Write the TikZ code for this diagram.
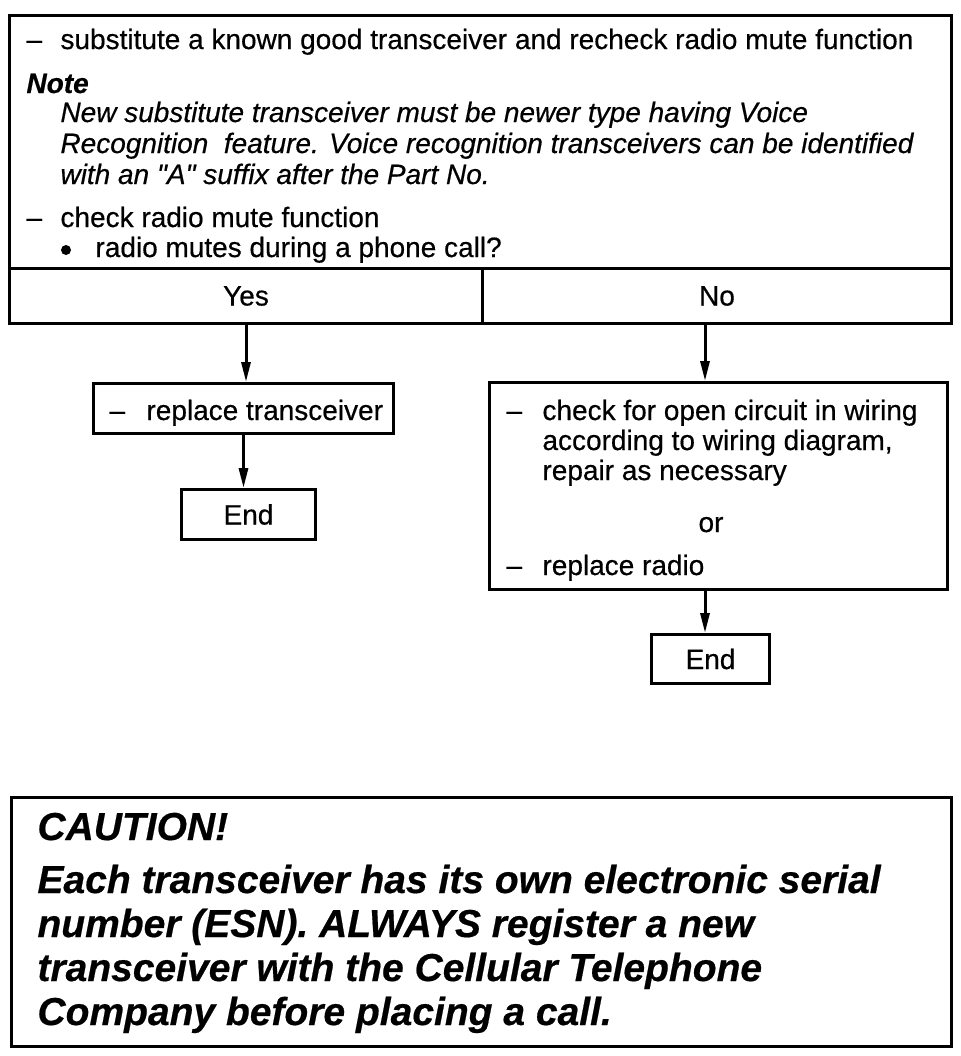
\documentclass[tikz,border=0pt]{standalone}
\usepackage{fontspec}
\setmainfont{Liberation Sans}[FakeBold=0.5]
\usetikzlibrary{arrows.meta,positioning}

\begin{document}
\begin{tikzpicture}[x=0.5pt,y=-0.5pt,line width=1.5pt,
    box/.style={draw,rectangle,inner sep=0pt,anchor=north west,font=\fontsize{14}{16}\selectfont},
    txt/.style={anchor=base west,inner sep=0pt,font=\fontsize{14}{16}\selectfont},
    warn/.style={anchor=base west,inner sep=0pt,font=\fontsize{19.5}{23}\selectfont\bfseries\itshape},
    flow/.style={-{Triangle[length=10pt,width=4.5pt]}}]
    \useasboundingbox (0,0) rectangle (960,1056);
    % question box
    \node[box,minimum width=471pt,minimum height=126.5pt] (check) at (8,14) {};
    \node[box,minimum width=236.5pt,minimum height=27.5pt] (yes) at (8,267) {Yes};
    \node[box,minimum width=234.5pt,minimum height=27.5pt] (no) at (481,267) {No};
    \node[txt] (d1) at (25,49) {--};
    \node[txt] (t1) at (59,49) {substitute a known good transceiver and recheck radio mute function};
    \node[txt,font=\fontsize{14}{16}\selectfont\bfseries\itshape] (note) at (25,93) {Note};
    \node[txt,font=\fontsize{14}{16}\selectfont\itshape] (n1) at (59,122) {New substitute transceiver must be newer type having Voice};
    \node[txt,font=\fontsize{14}{16}\selectfont\itshape] (n2) at (59,153) {Recognition\ \ feature. Voice recognition transceivers can be identified};
    \node[txt,font=\fontsize{14}{16}\selectfont\itshape] (n3) at (59,184) {with an \textquotedbl A\textquotedbl\ suffix after the Part No.};
    \node[txt] (d2) at (25,227) {--};
    \node[txt] (t2) at (59,227) {check radio mute function};
    \node[fill,circle,inner sep=0pt,minimum size=5pt] (b1) at (66,250) {};
    \node[txt] (t3) at (94,257) {radio mutes during a phone call?};
    % yes branch
    \node[box,minimum width=150pt,minimum height=25pt] (repl) at (92,382) {};
    \node[txt] (d3) at (108,420) {--};
    \node[txt] (t4) at (145,420) {replace transceiver};
    \node[box,minimum width=67pt,minimum height=25pt] (endl) at (180,488) {End};
    \draw[flow] (yes.south) -- (yes.south |- repl.north);
    \draw[flow] (repl.south) -- (repl.south |- endl.north);
    % no branch
    \node[box,minimum width=229pt,minimum height=103.5pt] (wire) at (488,381) {};
    \node[txt] (d4) at (505,420) {--};
    \node[txt] (t5) at (541,420) {check for open circuit in wiring};
    \node[txt] (t6) at (541,450) {according to wiring diagram,};
    \node[txt] (t7) at (541,480) {repair as necessary};
    \node[txt,anchor=base] (or) at (711,532) {or};
    \node[txt] (d5) at (505,575) {--};
    \node[txt] (t8) at (541,575) {replace radio};
    \node[box,minimum width=59pt,minimum height=24.5pt] (endr) at (650,633) {End};
    \coordinate (nout) at (705,322);
    \draw[flow] (nout) -- (nout |- wire.north);
    \draw[flow] (nout |- wire.south) -- (nout |- endr.north);
    % caution
    \node[box,minimum width=470pt,minimum height=124.5pt] (caution) at (10,796) {};
    \node[warn] (c0) at (36,840) {CAUTION!};
    \node[warn] (c1) at (36,893) {Each transceiver has its own electronic serial};
    \node[warn] (c2) at (36,937) {number (ESN). ALWAYS register a new};
    \node[warn] (c3) at (36,981) {transceiver with the Cellular Telephone};
    \node[warn] (c4) at (36,1025) {Company before placing a call.};
\end{tikzpicture}
\end{document}
